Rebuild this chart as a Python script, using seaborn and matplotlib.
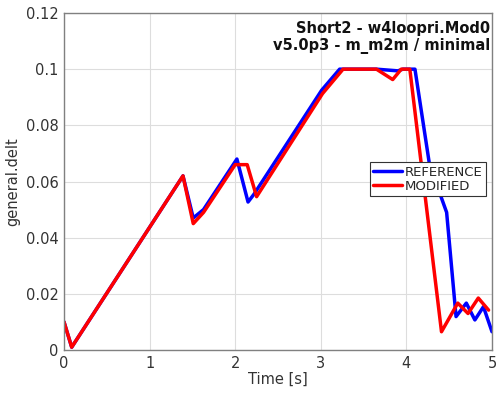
import matplotlib
matplotlib.use("Agg")
import matplotlib.pyplot as plt
import seaborn as sns
import pandas as pd

ref_t = [0.0, 0.09, 1.39, 1.51, 1.63, 2.02, 2.15, 2.22, 3.01, 3.22, 3.65, 3.90, 3.96, 4.10, 4.27, 4.47, 4.58, 4.70, 4.80, 4.90, 5.0]
ref_v = [0.010, 0.001, 0.062, 0.047, 0.050, 0.068, 0.0527, 0.0555, 0.0925, 0.100, 0.100, 0.0994, 0.100, 0.100, 0.066, 0.049, 0.0119, 0.0167, 0.0107, 0.0154, 0.0065]
mod_t = [0.0, 0.09, 1.39, 1.51, 1.63, 2.00, 2.14, 2.25, 3.02, 3.26, 3.65, 3.84, 3.94, 4.04, 4.41, 4.60, 4.72, 4.84, 4.96]
mod_v = [0.010, 0.001, 0.062, 0.045, 0.049, 0.066, 0.066, 0.0546, 0.0913, 0.100, 0.100, 0.0963, 0.100, 0.100, 0.0065, 0.0167, 0.013, 0.0185, 0.0142]
labels = ["REFERENCE", "MODIFIED"]
x_ticks = [0, 1, 2, 3, 4, 5]
y_ticks = [0, 0.02, 0.04, 0.06, 0.08, 0.1, 0.12]
y_tick_labels = ["0", "0.02", "0.04", "0.06", "0.08", "0.1", "0.12"]

df = pd.concat([
    pd.DataFrame({"t": ref_t, "v": ref_v, "case": labels[0]}),
    pd.DataFrame({"t": mod_t, "v": mod_v, "case": labels[1]}),
])

sns.set_style("white")
plt.rcParams["font.family"] = ["DejaVu Sans"]

fig = plt.figure(figsize=(4.97, 3.94), dpi=100)
ax = fig.add_axes([64/497, 1-350/394, (492-64)/497, (350-13)/394])

sns.lineplot(data=df, x="t", y="v", hue="case", palette={"REFERENCE": "#0000ff", "MODIFIED": "#ff0000"},
             linewidth=2.5, ax=ax, sort=False, estimator=None)

ax.set_xlim(0, 5)
ax.set_ylim(0, 0.12)
ax.set_xticks(x_ticks)
ax.set_xticklabels([str(v) for v in x_ticks])
ax.set_yticks(y_ticks)
ax.set_yticklabels(y_tick_labels)
ax.grid(True, color="#dddddd", linewidth=0.8)
ax.set_axisbelow(True)
for s in ax.spines.values():
    s.set_color("#808080")
    s.set_linewidth(1.0)
ax.tick_params(direction="in", length=3, colors="#808080", labelcolor="#333333", labelsize=10.5, pad=4)
ax.set_xlabel("Time [s]", fontsize=10.5, color="#333333", labelpad=1)
ax.set_ylabel("general.delt", fontsize=10.5, color="#333333", labelpad=4)

ax.text(0.995, 0.975, "Short2 - w4loopri.Mod0\nv5.0p3 - m_m2m / minimal", transform=ax.transAxes,
        ha="right", va="top", fontsize=10.5, fontweight="bold", color="#111111", linespacing=1.15)

leg = ax.legend(loc="upper right", bbox_to_anchor=(0.985, 0.557), fontsize=9.5, frameon=True,
                fancybox=False, edgecolor="#333333", handlelength=2.2, handletextpad=0.2,
                borderpad=0.25, labelspacing=0.1, borderaxespad=0, framealpha=1.0)
leg.get_frame().set_linewidth(0.8)
leg.set_title(None)

fig.savefig("out.png", dpi=100)
